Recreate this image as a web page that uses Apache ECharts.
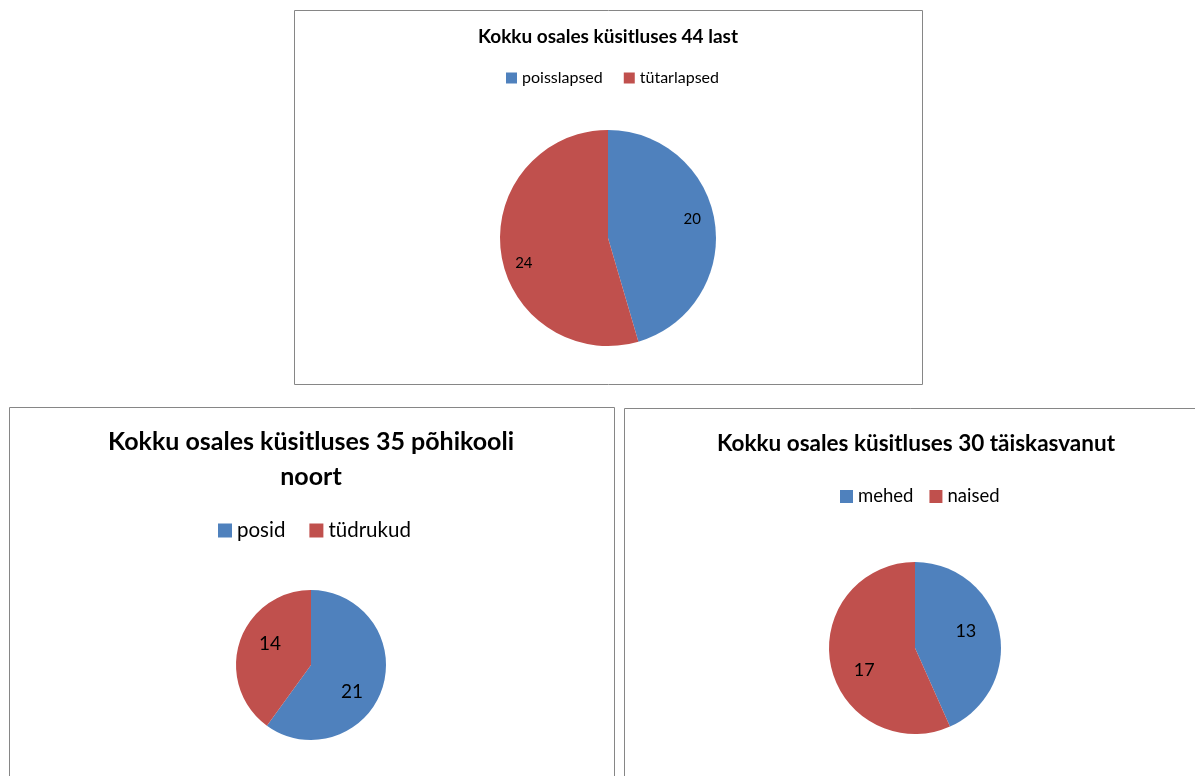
<!DOCTYPE html>
<html>
<head>
<meta charset="utf-8">
<script src="https://cdn.jsdelivr.net/npm/echarts@6/dist/echarts.min.js"></script>
<style>
html,body{margin:0;padding:0;background:#fff;}
#main{width:1195px;height:776px;}
</style>
</head>
<body>
<div id="main"></div>
<script>
// ---- data ----
const title1 = 'Kokku osales küsitluses 44 last';
const cats1 = ['poisslapsed', 'tütarlapsed'];
const vals1 = [20, 24];

const title2 = 'Kokku osales küsitluses 35 põhikooli\nnoort';
const cats2 = ['posid', 'tüdrukud'];
const vals2 = [21, 14];

const title3 = 'Kokku osales küsitluses 30 täiskasvanut';
const cats3 = ['mehed', 'naised'];
const vals3 = [13, 17];

const colors = ['#4F81BD', '#C0504D'];
const FONT = 'Lato, "Open Sans", sans-serif';

const chart = echarts.init(document.getElementById('main'), null, {renderer: 'canvas'});

function pieData(cats, vals) {
  return cats.map((c, i) => ({name: c, value: vals[i], itemStyle: {color: colors[i]}}));
}
function legendData(cats) {
  return cats.map((c, i) => ({name: c, itemStyle: {color: colors[i]}}));
}
function mainPie(cats, vals, center, r) {
  return {
    type: 'pie', center: center, radius: [0, r], startAngle: 90, clockwise: true,
    data: pieData(cats, vals), label: {show: false}, labelLine: {show: false},
    emphasis: {disabled: true}, animation: false, avoidLabelOverlap: false
  };
}
// transparent companion series that only carries the value labels (placed at half its radius),
// with the vertical spread of the labels widened a little as in the original
function labelPie(cats, vals, center, r, fs) {
  const cy = center[1];
  const K = 1.8;
  return {
    type: 'pie', center: center, radius: [0, r], startAngle: 90, clockwise: true,
    silent: true, z: 5,
    data: cats.map((c, i) => ({name: c, value: vals[i], itemStyle: {color: 'rgba(0,0,0,0)'}})),
    itemStyle: {borderWidth: 0},
    label: {show: true, position: 'inside', formatter: '{c}', color: '#000', fontSize: fs, fontFamily: FONT},
    labelLayout: function (p) {
      const ly = p.labelRect.y + p.labelRect.height / 2;
      return {dy: (ly - cy) * (K - 1) + 3};
    },
    labelLine: {show: false}, emphasis: {disabled: true}, animation: false, avoidLabelOverlap: false
  };
}

const option = {
  animation: false,
  graphic: [
    {type: 'rect', shape: {x: 294.5, y: 10.5, width: 628, height: 374}, style: {fill: '#fff', stroke: '#868686', lineWidth: 1}, z: -10},
    {type: 'rect', shape: {x: 9.5, y: 407.5, width: 605, height: 380}, style: {fill: '#fff', stroke: '#868686', lineWidth: 1}, z: -10},
    {type: 'rect', shape: {x: 624.5, y: 408.5, width: 590, height: 380}, style: {fill: '#fff', stroke: '#868686', lineWidth: 1}, z: -10}
  ],
  title: [
    {text: title1, left: 608, top: 25, textAlign: 'center', padding: 0,
     textStyle: {fontFamily: FONT, fontWeight: 'bold', fontSize: 19, color: '#000', lineHeight: 23}},
    {text: title2, left: 311, top: 424, textAlign: 'center', padding: 0,
     textStyle: {fontFamily: FONT, fontWeight: 'bold', fontSize: 25, color: '#000', lineHeight: 35}},
    {text: title3, left: 916, top: 430, textAlign: 'center', padding: 0,
     textStyle: {fontFamily: FONT, fontWeight: 'bold', fontSize: 22.5, color: '#000', lineHeight: 27}}
  ],
  legend: [
    {data: legendData(cats1), left: 506, top: 70, padding: 0, icon: 'rect', itemWidth: 11, itemHeight: 11, itemGap: 21,
     textStyle: {fontFamily: FONT, fontSize: 16, color: '#000'}, selectedMode: false},
    {data: legendData(cats2), left: 218, top: 520, padding: 0, icon: 'rect', itemWidth: 14, itemHeight: 14, itemGap: 24,
     textStyle: {fontFamily: FONT, fontSize: 20.5, color: '#000'}, selectedMode: false},
    {data: legendData(cats3), left: 840, top: 487, padding: 0, icon: 'rect', itemWidth: 13, itemHeight: 13, itemGap: 16,
     textStyle: {fontFamily: FONT, fontSize: 18.5, color: '#000'}, selectedMode: false}
  ],
  series: [
    mainPie(cats1, vals1, [608, 238], 108),
    labelPie(cats1, vals1, [608, 238], 164, 15),
    mainPie(cats2, vals2, [311, 665], 75),
    labelPie(cats2, vals2, [311, 665], 80, 19),
    mainPie(cats3, vals3, [915, 648], 86),
    labelPie(cats3, vals3, [915, 648], 98, 18)
  ]
};
chart.setOption(option);
</script>
</body>
</html>
